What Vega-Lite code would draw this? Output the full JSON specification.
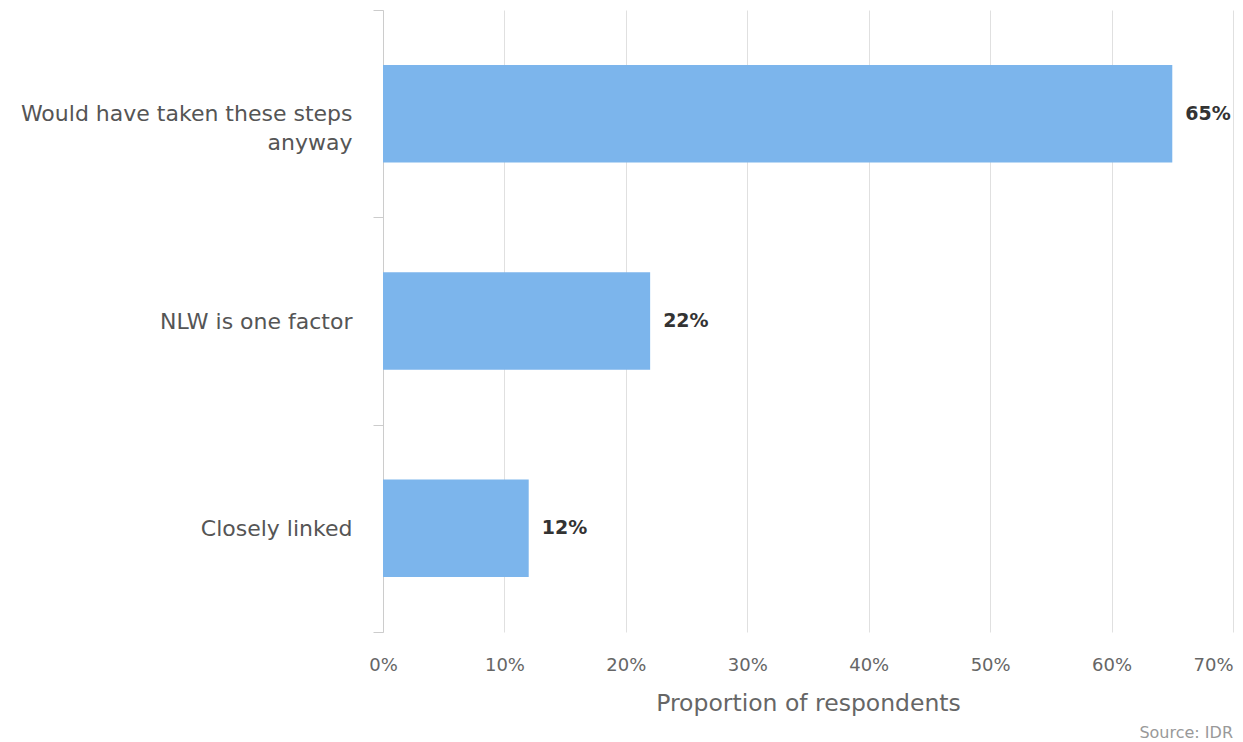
{
  "$schema": "https://vega.github.io/schema/vega-lite/v6.json",
  "autosize": "none",
  "width": 850,
  "height": 622,
  "padding": {"left": 383, "top": 10, "right": 10, "bottom": 110},
  "background": "white",
  "config": {"view": {"stroke": null}, "font": "DejaVu Sans"},
  "title": {"text": "Source: IDR", "orient": "bottom", "anchor": "end", "fontSize": 16, "fontWeight": "normal", "color": "#999999", "offset": 10, "font": "DejaVu Sans"},
  "data": {"values": [
    {"category": "Would have taken these steps anyway", "value": 0.65},
    {"category": "NLW is one factor", "value": 0.22},
    {"category": "Closely linked", "value": 0.12}
  ]},
  "encoding": {
    "y": {"field": "category", "type": "nominal", "sort": null,
      "scale": {"paddingInner": 0, "paddingOuter": 0},
      "axis": {"title": null, "domainColor": "#cccccc", "tickColor": "#cccccc", "tickSize": 10, "tickBand": "extent",
        "labelPadding": 21, "labelFontSize": 22, "labelColor": "#555555", "labelLimit": 400, "labelLineHeight": 29,
        "labelExpr": "datum.value == 'Would have taken these steps anyway' ? ['Would have taken these steps', 'anyway'] : datum.value"}},
    "x": {"field": "value", "type": "quantitative",
      "scale": {"domain": [0, 0.7], "nice": false},
      "axis": {"title": "Proportion of respondents", "values": [0, 0.1, 0.2, 0.3, 0.4, 0.5, 0.6, 0.7], "format": ".0%",
        "domain": false, "ticks": false, "labelFlush": false,
        "labelAlign": {"condition": {"test": "datum.value >= 0.69", "value": "right"}, "value": "center"},
        "labelPadding": 24, "labelFontSize": 18, "labelColor": "#666666",
        "gridColor": "#e0e0e0", "titleFontSize": 23.5, "titleFontWeight": "normal", "titleColor": "#666666", "titlePadding": 17}}
  },
  "layer": [
    {"mark": {"type": "bar", "color": "#7cb5ec", "height": {"band": 0.47}}},
    {"mark": {"type": "text", "align": "left", "dx": 13, "fontSize": 19, "fontWeight": "bold", "color": "#333333"},
      "encoding": {"text": {"field": "value", "type": "quantitative", "format": ".0%"}}}
  ]
}
